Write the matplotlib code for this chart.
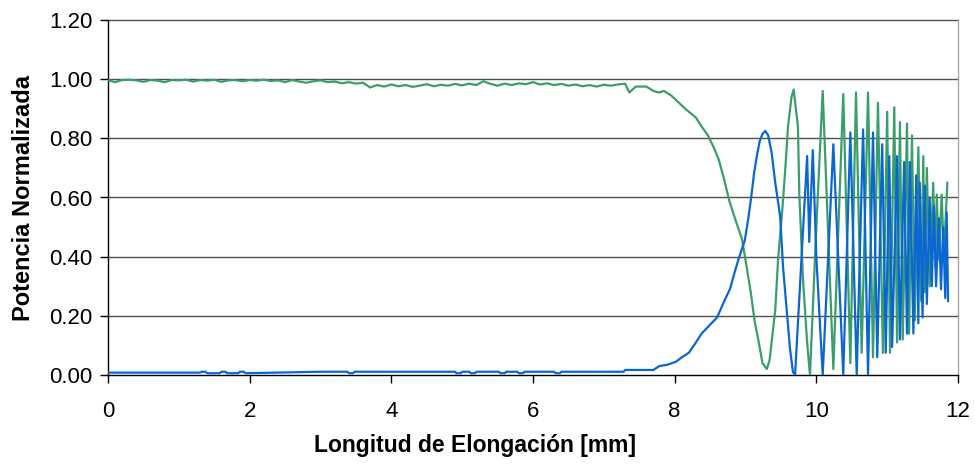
import matplotlib
matplotlib.use("Agg")
import matplotlib.pyplot as plt

plt.rcParams['font.family'] = ['Liberation Sans', 'DejaVu Sans']

# Output port 1 (green): flat region sampled every 0.1 mm, then the transfer zone
green_x = [0.0, 0.1, 0.2, 0.3, 0.4, 0.5, 0.6, 0.7, 0.8, 0.9,
           1.0, 1.1, 1.2, 1.3, 1.4, 1.5, 1.6, 1.7, 1.8, 1.9,
           2.0, 2.1, 2.2, 2.3, 2.4, 2.5, 2.6, 2.7, 2.8, 2.9,
           3.0, 3.1, 3.2, 3.3, 3.4, 3.5, 3.6, 3.7, 3.8, 3.9,
           4.0, 4.1, 4.2, 4.3, 4.4, 4.5, 4.6, 4.7, 4.8, 4.9,
           5.0, 5.1, 5.2, 5.3, 5.4, 5.5, 5.6, 5.7, 5.8, 5.9,
           6.0, 6.1, 6.2, 6.3, 6.4, 6.5, 6.6, 6.7, 6.8, 6.9,
           7.0, 7.1, 7.2, 7.3, 7.36, 7.45, 7.6, 7.7, 7.78, 7.85,
           7.95, 8.06, 8.15, 8.3, 8.38, 8.47, 8.55, 8.62, 8.7, 8.77,
           8.85, 8.95, 9.02, 9.08, 9.13, 9.18, 9.24, 9.30, 9.34, 9.42,
           9.46, 9.52, 9.56, 9.60, 9.65, 9.68, 9.74, 9.76, 9.81, 9.87,
           9.91, 10.0, 10.09, 10.24, 10.38, 10.48, 10.56, 10.64, 10.73, 10.80,
           10.87, 10.94, 11.00, 11.04, 11.10, 11.14, 11.18, 11.22, 11.28, 11.31,
           11.35, 11.39, 11.44, 11.48, 11.51, 11.53, 11.56, 11.60, 11.65, 11.68,
           11.70, 11.73, 11.77, 11.80, 11.85]
green_y = [0.997, 0.990, 0.997, 0.998, 0.996, 0.991, 0.997, 0.995, 0.990, 0.997,
           0.996, 0.998, 0.992, 0.997, 0.995, 0.998, 0.991, 0.996, 0.997, 0.993,
           0.997, 0.995, 0.998, 0.994, 0.996, 0.990, 0.997, 0.992, 0.988, 0.993,
           0.996, 0.990, 0.992, 0.986, 0.990, 0.985, 0.988, 0.972, 0.980, 0.975,
           0.982, 0.976, 0.980, 0.974, 0.978, 0.983, 0.976, 0.981, 0.978, 0.984,
           0.979, 0.985, 0.980, 0.993, 0.984, 0.978, 0.985, 0.980, 0.986, 0.983,
           0.990, 0.982, 0.986, 0.980, 0.984, 0.978, 0.982, 0.976, 0.980, 0.975,
           0.981, 0.978, 0.982, 0.985, 0.955, 0.975, 0.975, 0.960, 0.955, 0.960,
           0.945, 0.920, 0.900, 0.870, 0.840, 0.810, 0.770, 0.730, 0.660, 0.590,
           0.530, 0.460, 0.360, 0.270, 0.180, 0.120, 0.040, 0.020, 0.050, 0.220,
           0.390, 0.560, 0.690, 0.840, 0.940, 0.965, 0.840, 0.610, 0.330, 0.110,
           0.000, 0.500, 0.960, 0.020, 0.950, 0.040, 0.955, 0.075, 0.955, 0.060,
           0.920, 0.075, 0.890, 0.075, 0.905, 0.110, 0.855, 0.120, 0.850, 0.140,
           0.810, 0.185, 0.770, 0.250, 0.740, 0.280, 0.700, 0.300, 0.650, 0.365,
           0.610, 0.390, 0.610, 0.400, 0.650]

# Output port 2 (blue)
blue_x = [0.0, 1.3, 1.32, 1.38, 1.40, 1.58, 1.60, 1.66, 1.68, 1.84,
          1.86, 1.92, 1.94, 3.00, 3.38, 3.40, 3.46, 3.48, 4.90, 4.92,
          4.98, 5.00, 5.10, 5.12, 5.18, 5.20, 5.52, 5.54, 5.60, 5.62,
          5.78, 5.80, 5.86, 5.88, 6.30, 6.32, 6.38, 6.40, 7.28, 7.30,
          7.70, 7.78, 7.90, 8.02, 8.10, 8.20, 8.30, 8.38, 8.50, 8.60,
          8.70, 8.78, 8.85, 8.90, 8.99, 9.04, 9.08, 9.12, 9.16, 9.20,
          9.24, 9.28, 9.32, 9.37, 9.42, 9.49, 9.53, 9.59, 9.63, 9.67,
          9.70, 9.87, 9.90, 9.95, 10.0, 10.09, 10.24, 10.38, 10.48, 10.57,
          10.66, 10.73, 10.80, 10.86, 10.93, 10.98, 11.03, 11.07, 11.14, 11.18,
          11.24, 11.28, 11.32, 11.37, 11.41, 11.44, 11.46, 11.50, 11.53, 11.56,
          11.60, 11.63, 11.66, 11.69, 11.73, 11.76, 11.79, 11.82, 11.84, 11.86]
blue_y = [0.008, 0.008, 0.011, 0.011, 0.006, 0.006, 0.011, 0.011, 0.006, 0.006,
          0.011, 0.011, 0.006, 0.011, 0.011, 0.006, 0.006, 0.011, 0.011, 0.006,
          0.006, 0.011, 0.011, 0.006, 0.006, 0.011, 0.011, 0.006, 0.006, 0.011,
          0.011, 0.006, 0.006, 0.011, 0.011, 0.006, 0.006, 0.011, 0.011, 0.017,
          0.017, 0.030, 0.035, 0.045, 0.060, 0.075, 0.110, 0.140, 0.170, 0.195,
          0.250, 0.290, 0.350, 0.390, 0.455, 0.530, 0.600, 0.680, 0.740, 0.790,
          0.815, 0.825, 0.810, 0.750, 0.650, 0.535, 0.365, 0.195, 0.085, 0.010,
          0.000, 0.740, 0.450, 0.760, 0.400, 0.000, 0.780, 0.000, 0.820, 0.000,
          0.830, 0.000, 0.820, 0.060, 0.780, 0.075, 0.740, 0.095, 0.740, 0.120,
          0.720, 0.140, 0.720, 0.140, 0.675, 0.175, 0.650, 0.195, 0.640, 0.240,
          0.600, 0.300, 0.570, 0.300, 0.530, 0.290, 0.500, 0.260, 0.550, 0.250]

x_ticks = [0, 2, 4, 6, 8, 10, 12]
y_ticks = [0.0, 0.2, 0.4, 0.6, 0.8, 1.0, 1.2]

GREEN = '#3a9e6c'
BLUE = '#0a66d2'

fig = plt.figure(figsize=(9.75, 4.65), dpi=100)
ax = fig.add_axes([108 / 975, 1 - 375 / 465, (958 - 108) / 975, (375 - 20) / 465])

ax.plot(green_x, green_y, color=GREEN, lw=1.6, zorder=3)
ax.plot(blue_x, blue_y, color=BLUE, lw=1.6, zorder=4)

ax.set_xlim(0, 12)
ax.set_ylim(0, 1.2)
ax.set_xticks(x_ticks)
ax.set_xticklabels([str(t) for t in x_ticks])
ax.set_yticks(y_ticks)
ax.set_yticklabels([f"{t:.2f}" for t in y_ticks])

for t in y_ticks[1:]:
    ax.axhline(t, color='#505050', lw=1.0, zorder=1, clip_on=False)

ax.spines['top'].set_visible(False)
ax.spines['right'].set_color('#a8a8a8')
ax.spines['right'].set_linewidth(1.0)
ax.spines['left'].set_color('#000000')
ax.spines['bottom'].set_color('#000000')
ax.spines['left'].set_linewidth(1.0)
ax.spines['bottom'].set_linewidth(1.0)

ax.tick_params(axis='both', direction='out', length=6, width=1.0,
               labelsize=16, colors='#000000')
ax.tick_params(axis='x', pad=13)
ax.tick_params(axis='y', pad=5)

ax.set_xlabel('Longitud de Elongación [mm]', fontsize=16.5, fontweight='bold')
ax.xaxis.set_label_coords(0.432, -0.165)
ax.set_ylabel('Potencia Normalizada', fontsize=17, fontweight='bold', labelpad=10)

fig.savefig('out.png', dpi=100)
